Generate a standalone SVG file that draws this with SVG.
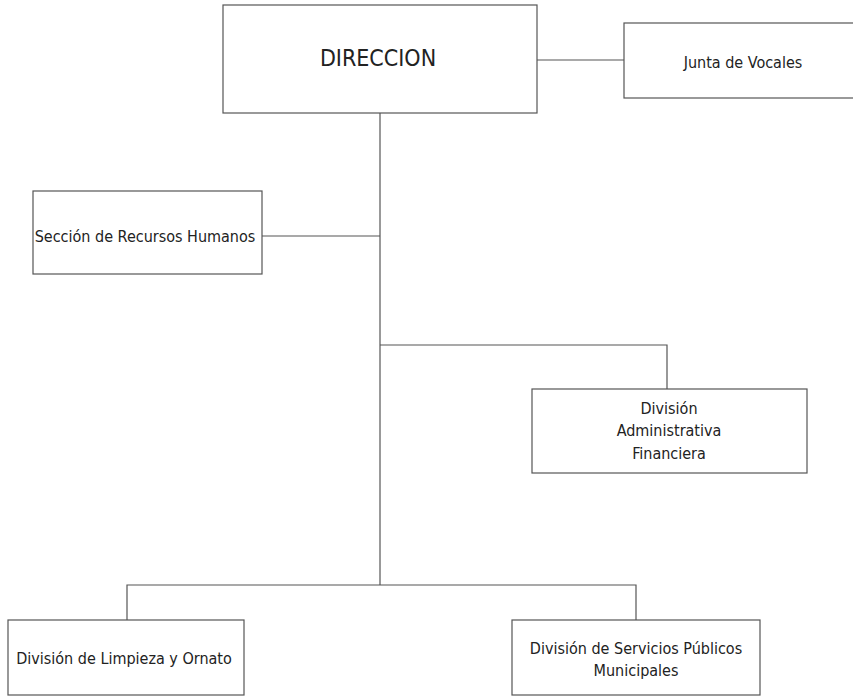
<svg xmlns="http://www.w3.org/2000/svg" width="853" height="697" viewBox="0 0 853 697">
<style>
.box{fill:#fff;stroke:#555;stroke-width:1.2}
.ln{stroke:#555;stroke-width:1.2;fill:none}
text{font-family:"DejaVu Sans Condensed","DejaVu Sans",sans-serif;fill:#222;text-anchor:middle;font-size:16px}
.big{font-size:23px}
</style>
<rect width="853" height="697" fill="#fff"/>
<g id="connectors">
<path class="ln" d="M537 60H624"/>
<path class="ln" d="M380 113V585"/>
<path class="ln" d="M262 236H380"/>
<path class="ln" d="M380 345H667V389"/>
<path class="ln" d="M127 620V585H636V620"/>
</g>
<g id="direccion"><rect class="box" x="223" y="5" width="314" height="108"/><text class="big" x="378" y="66">DIRECCION</text></g>
<g id="junta"><rect class="box" x="624" y="23" width="240" height="75"/><text x="743" y="68">Junta de Vocales</text></g>
<g id="rrhh"><rect class="box" x="33" y="191" width="229" height="83"/><text x="145" y="242">Sección de Recursos Humanos</text></g>
<g id="daf"><rect class="box" x="532" y="389" width="275" height="84"/><text x="669" y="414">División</text><text x="669" y="436">Administrativa</text><text x="669" y="459">Financiera</text></g>
<g id="limpieza"><rect class="box" x="8" y="620" width="236" height="75"/><text x="124" y="664">División de Limpieza y Ornato</text></g>
<g id="servicios"><rect class="box" x="512" y="620" width="248" height="75"/><text x="636" y="654">División de Servicios Públicos</text><text x="636" y="676">Municipales</text></g>
</svg>
